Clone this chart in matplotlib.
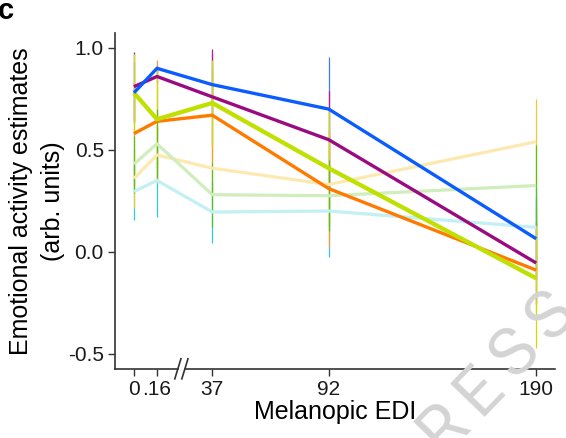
import numpy as np
import matplotlib.pyplot as plt

plt.rcParams['font.family'] = ['Liberation Sans', 'DejaVu Sans']

# melanopic EDI levels and labels
edi = np.array([0, 0.16, 37, 92, 190])
tick_labels = ['0', '.16', '37', '92', '190']

# estimates per series (pale ones first, strong ones last)
cyan_est = [0.295, 0.35, 0.195, 0.20, 0.12]
yellow_est = [0.36, 0.475, 0.41, 0.33, 0.54]
green_est = [0.43, 0.53, 0.28, 0.275, 0.325]
orange_est = [0.58, 0.64, 0.67, 0.31, -0.09]
ygreen_est = [0.78, 0.65, 0.73, 0.41, -0.13]
purple_est = [0.81, 0.86, 0.76, 0.55, -0.055]
blue_est = [0.78, 0.90, 0.82, 0.70, 0.064]

# half widths of the error bars
cyan_err = [0.14, 0.18, 0.15, 0.225, 0.2]
yellow_err = [0.145, 0.14, 0.12, 0.2, 0.21]
green_err = [0.14, 0.17, 0.16, 0.175, 0.2]
orange_err = [0.25, 0.30, 0.23, 0.285, 0.2]
ygreen_err = [0.19, 0.24, 0.21, 0.29, 0.34]
purple_err = [0.17, 0.03, 0.235, 0.24, 0.2]
blue_err = [0.15, 0.02, 0.15, 0.257, 0.2]


def edi_pos(v):
    # the low end (0 - 0.16) is stretched, the rest stays linear
    v = np.asarray(v, dtype=float)
    return np.where(v <= 0.16, v * 68, v)


xp = edi_pos(edi)

fig = plt.figure(figsize=(5.66, 4.38), dpi=100)
ax = fig.add_axes([0.203, 0.158, 0.778, 0.767])

# error bars, order matters for which colour ends up visible
bars = [
    (blue_est, blue_err, '#3a7bff'),
    (purple_est, purple_err, '#c0168f'),
    (cyan_est, cyan_err, '#2ccbe0'),
    (yellow_est, yellow_err, '#f7c53a'),
    (orange_est, orange_err, '#ff9a30'),
    (ygreen_est, ygreen_err, '#c8e000'),
    (green_est, green_err, '#5bbf1c'),
]
for est, err, col in bars:
    est = np.array(est)
    err = np.array(err)
    ax.vlines(xp, est - err, est + err, color=col, lw=0.9, zorder=2)

# mean lines
lines = [
    (cyan_est, '#c2f0f3', 2.3),
    (yellow_est, '#fde9b0', 2.3),
    (green_est, '#cfeebb', 2.3),
    (orange_est, '#ff7a00', 2.4),
    (ygreen_est, '#bfe000', 3.1),
    (purple_est, '#9a0a80', 2.4),
    (blue_est, '#0a5cff', 2.4),
]
for est, col, lw in lines:
    ax.plot(xp, est, color=col, lw=lw, zorder=3, solid_capstyle='butt')

ax.set_xlim(-9, 199)
ax.set_ylim(-0.574, 1.074)
ax.set_xticks(xp)
ax.set_xticklabels(tick_labels)
ax.set_yticks([-0.5, 0.0, 0.5, 1.0])
ax.set_yticklabels(['-0.5', '0.0', '0.5', '1.0'])
ax.tick_params(labelsize=15, length=5, width=1, color='#333333',
               labelcolor='#1a1a1a', pad=3)

for s in ['top', 'right', 'bottom']:
    ax.spines[s].set_visible(False)
ax.spines['left'].set_color('#333333')
ax.spines['left'].set_linewidth(1.2)

# broken x axis
kw = dict(transform=ax.transAxes, color='#333333', lw=1.2, clip_on=False)
ax.plot([0, 0.143], [0, 0], **kw)
ax.plot([0.159, 1], [0, 0], **kw)
for xb in [0.143, 0.159]:
    ax.plot([xb - 0.007, xb + 0.007], [-0.03, 0.03], **kw)

ax.set_xlabel('Melanopic EDI', fontsize=18, labelpad=1)
ax.set_ylabel('Emotional activity estimates\n(arb. units)', fontsize=18,
              labelpad=2, linespacing=1.4)

fig.text(-0.004, 0.975, 'c', fontsize=21, fontweight='bold', va='center')

# watermark remains (widely spaced letters)
wm = 'PRESS'
for i, ch in enumerate(wm[::-1]):
    cx = 552 - 36 * i
    cy = 317 + 37 * i
    fig.text(cx / 566, 1 - cy / 438, ch, fontsize=48, color='#d4d4d4',
             family=['Roboto', 'DejaVu Sans'], fontweight='normal',
             rotation=46, ha='center', va='center', zorder=0)

fig.savefig('out.png', dpi=100)
